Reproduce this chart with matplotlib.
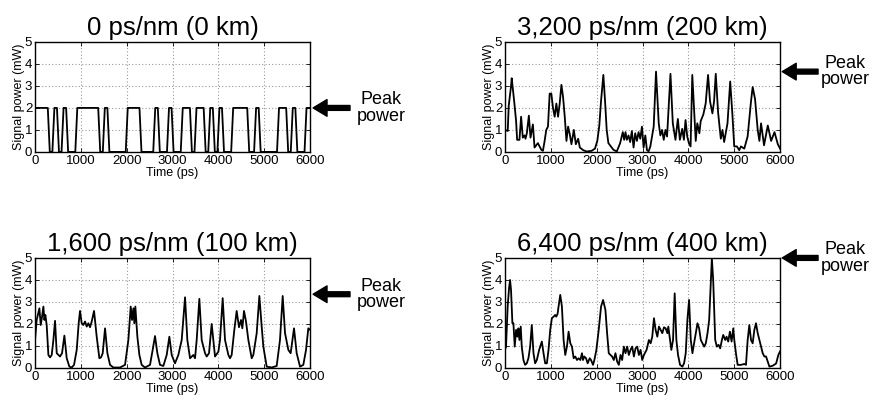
import matplotlib
matplotlib.use("Agg")
import matplotlib.pyplot as plt

plt.rcParams['font.family'] = ['Liberation Sans', 'DejaVu Sans']

# panel titles
titles = ["0 ps/nm (0 km)", "3,200 ps/nm (200 km)",
          "1,600 ps/nm (100 km)", "6,400 ps/nm (400 km)"]
peak_power = [2.0, 3.65, 3.35, 5.0]

# 0 km: on/off bit pattern, '1' periods (ps), 2 mW
ones_start = [0, 400, 600, 900, 1500, 2000, 2600, 2900, 3200, 3500, 3800, 4000, 4300, 4800, 5300, 5600, 5900]
ones_end = [300, 500, 700, 1400, 1600, 2300, 2700, 3000, 3400, 3700, 3900, 4100, 4650, 4900, 5500, 5700, 6000]
level_0km = 2.0
edge = 22

# 200 km
t_200 = [0, 59, 81, 132, 146, 200, 242, 264, 315, 351,
         388, 425, 447, 476, 520, 556, 608, 644, 717, 791,
         827, 864, 900, 937, 974, 1010, 1047, 1083, 1120, 1157,
         1193, 1230, 1266, 1303, 1340, 1376, 1413, 1449, 1501, 1545,
         1596, 1632, 1706, 1779, 1889, 1962, 2013, 2057, 2094, 2145,
         2181, 2218, 2255, 2328, 2364, 2438, 2511, 2569, 2599, 2628,
         2657, 2694, 2730, 2767, 2804, 2840, 2877, 2913, 2950, 2987,
         3023, 3060, 3096, 3133, 3170, 3243, 3294, 3353, 3389, 3426,
         3462, 3499, 3535, 3609, 3660, 3718, 3770, 3814, 3865, 3902,
         3938, 3975, 4011, 4048, 4085, 4121, 4160, 4194, 4240, 4268,
         4326, 4377, 4429, 4472, 4524, 4560, 4597, 4648, 4707, 4743,
         4780, 4853, 4912, 4963, 5000, 5058, 5109, 5146, 5219, 5292,
         5366, 5402, 5454, 5512, 5549, 5585, 5650, 5732, 5805, 5878,
         5951, 6000]
p_200 = [1.0, 0.95, 2.1, 3.0, 3.35, 2.3, 1.4, 0.55, 0.55, 1.6,
         0.65, 0.75, 0.6, 0.85, 1.65, 0.65, 1.25, 0.2, 0.4, 0.1,
         0.05, 0.5, 1.0, 1.15, 2.65, 2.65, 2.0, 1.6, 2.2, 1.6,
         2.2, 3.05, 2.5, 1.6, 0.5, 1.15, 0.8, 0.35, 1.0, 0.35,
         0.6, 0.2, 0.08, 0.02, 0.05, 0.15, 0.5, 1.2, 2.3, 3.5,
         2.35, 1.0, 0.4, 0.2, 0.1, 0.02, 0.4, 0.9, 0.55, 0.9,
         0.55, 0.75, 0.45, 0.95, 0.2, 0.85, 0.5, 0.9, 0.6, 1.15,
         0.2, 0.75, 0.08, 0.03, 0.25, 1.15, 3.65, 1.3, 0.75, 1.0,
         0.55, 1.0, 0.7, 3.55, 1.3, 0.55, 1.5, 0.55, 1.05, 0.55,
         1.45, 0.7, 0.4, 0.25, 3.5, 2.05, 0.5, 1.3, 0.85, 1.4,
         1.7, 2.2, 3.5, 2.3, 1.75, 2.3, 3.55, 1.8, 0.6, 1.0,
         0.45, 1.3, 3.2, 1.6, 0.25, 0.25, 0.08, 0.25, 0.15, 0.7,
         2.3, 2.95, 2.4, 1.0, 0.5, 1.3, 0.3, 1.2, 0.5, 0.9,
         0.35, 0.15]

# 100 km
t_100 = [0, 36, 95, 124, 153, 182, 204, 225, 254, 291,
         327, 364, 400, 436, 473, 545, 589, 640, 691, 749,
         800, 851, 909, 952, 981, 1018, 1054, 1091, 1127, 1163,
         1200, 1236, 1287, 1345, 1403, 1440, 1476, 1527, 1578, 1636,
         1708, 1854, 1963, 2036, 2087, 2116, 2145, 2166, 2188, 2232,
         2276, 2326, 2399, 2508, 2566, 2617, 2668, 2726, 2799, 2872,
         2930, 2981, 3053, 3126, 3199, 3272, 3322, 3381, 3453, 3490,
         3526, 3584, 3635, 3708, 3744, 3795, 3853, 3926, 3999, 4035,
         4093, 4144, 4217, 4253, 4289, 4347, 4398, 4449, 4493, 4522,
         4558, 4602, 4653, 4726, 4762, 4835, 4893, 4944, 4980, 5053,
         5162, 5271, 5343, 5402, 5453, 5525, 5576, 5649, 5707, 5780,
         5852, 5911, 5961, 6000]
p_100 = [1.27, 2.18, 2.71, 1.95, 2.33, 2.79, 2.18, 2.41, 1.95, 0.59,
         0.48, 0.59, 1.27, 2.14, 0.67, 0.52, 0.67, 1.47, 0.44, 0.06,
         0.02, 0.14, 0.82, 2.03, 2.59, 2.03, 1.95, 2.11, 1.88, 2.03,
         1.85, 2.11, 2.59, 1.42, 0.44, 0.48, 0.67, 1.8, 0.67, 0.14,
         0.02, 0.02, 0.14, 1.27, 2.79, 2.18, 2.71, 2.03, 2.79, 1.42,
         0.59, 0.14, 0.02, 0.14, 0.82, 1.45, 0.67, 0.14, 0.09, 0.59,
         1.42, 0.59, 0.21, 0.59, 1.27, 3.21, 1.27, 0.44, 0.59, 0.44,
         1.27, 3.14, 1.27, 0.67, 0.52, 0.67, 2.0, 0.52, 0.74, 1.27,
         3.17, 1.27, 0.59, 0.44, 0.59, 1.73, 2.59, 1.85, 2.18, 1.8,
         2.59, 2.11, 1.27, 0.44, 0.59, 1.58, 3.27, 1.88, 0.97, 0.06,
         0.02, 0.09, 1.27, 3.27, 1.58, 0.82, 0.67, 1.8, 0.67, 0.06,
         0.14, 0.82, 1.8, 1.73]

# 400 km
t_400 = [0, 22, 58, 88, 110, 131, 161, 183, 212, 241,
         270, 292, 314, 343, 365, 402, 438, 475, 511, 548,
         584, 621, 657, 694, 745, 803, 840, 876, 913, 949,
         986, 1022, 1059, 1095, 1117, 1146, 1168, 1205, 1241, 1278,
         1314, 1351, 1387, 1424, 1460, 1497, 1533, 1570, 1606, 1643,
         1679, 1701, 1730, 1767, 1803, 1847, 1876, 1920, 1949, 1993,
         2044, 2095, 2139, 2190, 2227, 2263, 2300, 2336, 2373, 2409,
         2446, 2482, 2519, 2555, 2592, 2628, 2665, 2701, 2738, 2774,
         2811, 2847, 2884, 2920, 2957, 2993, 3030, 3088, 3139, 3176,
         3212, 3249, 3285, 3322, 3358, 3395, 3431, 3468, 3504, 3541,
         3562, 3599, 3628, 3665, 3701, 3738, 3774, 3818, 3869, 3906,
         3942, 3978, 4015, 4052, 4088, 4125, 4161, 4198, 4234, 4271,
         4307, 4344, 4380, 4417, 4453, 4490, 4512, 4541, 4585, 4621,
         4658, 4694, 4731, 4760, 4804, 4833, 4869, 4906, 4942, 4979,
         5001, 5037, 5074, 5147, 5220, 5256, 5293, 5329, 5366, 5402,
         5439, 5475, 5512, 5548, 5585, 5621, 5658, 5694, 5731, 5767,
         5840, 5913, 5964, 6000]
p_400 = [0.82, 0.97, 2.79, 3.62, 4.0, 3.55, 2.03, 2.03, 0.97, 1.73,
         1.42, 1.8, 1.27, 1.88, 0.97, 0.36, 0.14, 0.21, 0.44, 0.97,
         1.95, 0.67, 0.21, 0.36, 0.82, 1.2, 0.67, 0.21, 0.21, 0.82,
         1.73, 2.26, 2.33, 2.41, 2.33, 2.45, 2.79, 3.32, 2.79, 1.27,
         0.59, 0.97, 1.65, 1.12, 0.97, 0.44, 0.52, 0.36, 0.44, 0.36,
         0.67, 0.36, 0.52, 0.44, 0.21, 0.44, 0.36, 0.14, 0.36, 0.82,
         1.73, 2.79, 3.09, 2.64, 1.58, 0.67, 0.59, 0.52, 0.36, 0.67,
         0.29, 0.14, 0.59, 0.36, 0.97, 0.67, 0.97, 0.59, 0.82, 0.97,
         0.52, 0.89, 0.97, 0.59, 0.82, 0.36, 0.59, 0.82, 1.27, 1.12,
         1.42, 2.26, 1.73, 1.42, 1.88, 1.73, 1.58, 1.85, 1.8, 1.58,
         1.88, 1.27, 0.82, 1.27, 3.39, 1.27, 0.59, 0.14, 0.06, 0.21,
         0.67, 2.18, 3.09, 1.27, 0.67, 1.12, 1.58, 2.03, 1.8, 1.27,
         1.12, 0.97, 1.12, 1.58, 2.18, 4.0, 4.98, 4.0, 1.27, 0.97,
         1.05, 0.89, 1.27, 1.5, 1.27, 1.42, 1.2, 1.65, 1.2, 1.8,
         1.27, 0.67, 0.14, 0.14, 0.18, 0.14, 1.27, 1.95, 1.27, 1.12,
         1.73, 2.03, 1.58, 1.27, 0.97, 0.67, 0.52, 0.52, 0.29, 0.06,
         0.1, 0.2, 0.6, 0.75]

# trapezoid corners of the 0 km pattern
t_0 = []
p_0 = []
for s, e in zip(ones_start, ones_end):
    lo = max(s - edge, 0)
    hi = min(e + edge, 6000)
    if s == 0:
        t_0 += [0, e - edge, hi]
        p_0 += [level_0km, level_0km, 0]
    elif e == 6000:
        t_0 += [lo, s + edge, 6000]
        p_0 += [0, level_0km, level_0km]
    else:
        t_0 += [lo, s + edge, e - edge, hi]
        p_0 += [0, level_0km, level_0km, 0]

series = [(t_0, p_0), (t_200, p_200), (t_100, p_100), (t_400, p_400)]

fig = plt.figure(figsize=(8.76, 4.03), dpi=100)
positions = [[0.040, 0.623, 0.314, 0.273], [0.5765, 0.623, 0.314, 0.273],
             [0.040, 0.087, 0.314, 0.273], [0.5765, 0.087, 0.314, 0.273]]
arrow_tip = [1.011, 1.008, 1.011, 1.008]
arrow_tail = [1.145, 1.138, 1.145, 1.138]
text_x = [1.258, 1.236, 1.258, 1.236]

for i in range(4):
    ax = fig.add_axes(positions[i])
    t, p = series[i]
    ax.plot(t, p, color='black', lw=1.3)
    ax.set_xlim(0, 6000)
    ax.set_ylim(0, 5)
    ax.set_xticks(range(0, 6001, 1000))
    ax.set_yticks(range(0, 6))
    ax.grid(True, linestyle=(0, (1, 2)), color='0.6', lw=0.8)
    ax.tick_params(direction='in', length=3, width=0.6, top=True, right=True,
                   labelsize=9.5, pad=2)
    for sp in ax.spines.values():
        sp.set_linewidth(1.0)
    ax.set_xlabel("Time (ps)", fontsize=9, labelpad=0)
    ax.set_ylabel("Signal power (mW)", fontsize=9, labelpad=0)
    ax.set_title(titles[i], fontsize=18.5, pad=5)

    tr = ax.get_yaxis_transform()
    ax.annotate('', xy=(arrow_tip[i], peak_power[i]), xycoords=tr,
                xytext=(arrow_tail[i], peak_power[i]), textcoords=tr,
                arrowprops=dict(facecolor='black', edgecolor='black', width=3.5,
                                headwidth=12, headlength=10, shrink=0),
                annotation_clip=False)
    ax.text(text_x[i], peak_power[i], "Peak\npower", transform=tr,
            ha='center', va='center', fontsize=13, linespacing=0.95)

plt.savefig("out.png", dpi=100)
